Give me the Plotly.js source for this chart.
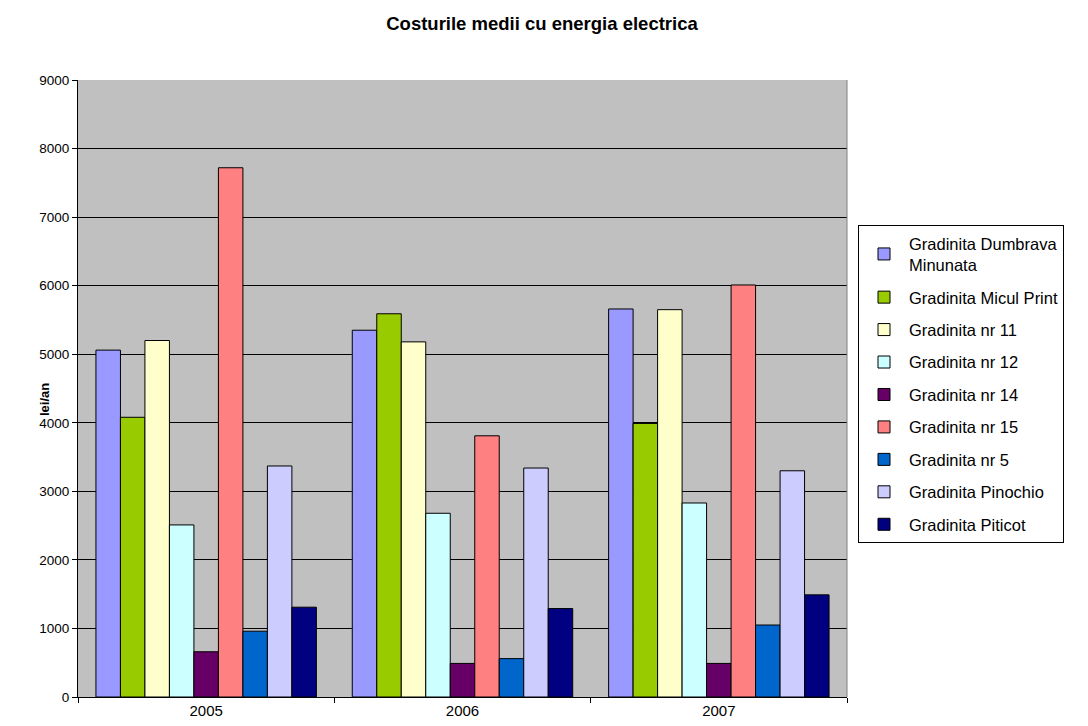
<!DOCTYPE html>
<html>
<head>
<meta charset="utf-8">
<script src="https://cdn.plot.ly/plotly-3.0.1.min.js"></script>
<style>html,body{margin:0;padding:0;background:#fff}#chart{width:1088px;height:726px}</style>
</head>
<body>
<div id="chart"></div>
<script>
const years = ['2005', '2006', '2007'];
const seriesNames = ['Gradinita Dumbrava<br>Minunata', 'Gradinita Micul Print', 'Gradinita nr 11', 'Gradinita nr 12', 'Gradinita nr 14', 'Gradinita nr 15', 'Gradinita nr 5', 'Gradinita Pinochio', 'Gradinita Piticot'];
const dumbrava = [5060, 5350, 5660];
const miculPrint = [4080, 5590, 3990];
const nr11 = [5200, 5180, 5650];
const nr12 = [2510, 2680, 2830];
const nr14 = [660, 490, 490];
const nr15 = [7720, 3810, 6010];
const nr5 = [960, 560, 1050];
const pinochio = [3370, 3340, 3300];
const piticot = [1310, 1290, 1490];
const seriesValues = [dumbrava, miculPrint, nr11, nr12, nr14, nr15, nr5, pinochio, piticot];
const colors = ['#9999FF', '#99CC00', '#FFFFCC', '#CCFFFF', '#660066', '#FF8080', '#0066CC', '#CCCCFF', '#000080'];

const traces = seriesNames.map((n, i) => ({
  type: 'bar', name: n, x: years, y: seriesValues[i],
  legendgroup: 'g' + i,
  marker: {color: colors[i], line: {color: '#000', width: 1}},
  hoverinfo: 'x+y+name'
}));

const layout = {
  width: 1088, height: 726,
  paper_bgcolor: '#fff', plot_bgcolor: '#C0C0C0',
  margin: {l: 78, r: 241, t: 80, b: 29},
  font: {family: 'Liberation Sans, Arial, sans-serif', size: 13, color: '#000'},
  title: {text: '<b>Costurile medii cu energia electrica</b>', font: {size: 18.5}, x: 542 / 1088, xref: 'container', y: 1 - 24 / 726, yref: 'container', xanchor: 'center', yanchor: 'middle'},
  barmode: 'group', bargap: 0.14, bargroupgap: 0,
  xaxis: {type: 'category', showgrid: false, showline: true, linecolor: '#000', linewidth: 1, mirror: false,
          ticks: 'outside', tickson: 'boundaries', ticklen: 5, tickcolor: '#000', tickfont: {size: 15}},
  yaxis: {range: [0, 9000], dtick: 1000, showgrid: true, gridcolor: '#000', gridwidth: 1,
          showline: true, linecolor: '#000', ticks: 'outside', ticklen: 5, tickcolor: '#000',
          zeroline: false, tickfont: {size: 13.5}},
  annotations: [{text: '<b>lei/an</b>', xref: 'paper', yref: 'paper', x: (44 - 78) / 769, y: (697 - 400) / 617,
                 xanchor: 'center', yanchor: 'middle', textangle: -90, showarrow: false, font: {size: 13}}],
  showlegend: true,
  legend: {x: (858 - 78) / 769, xanchor: 'left', y: (697 - 225) / 617, yanchor: 'top', bgcolor: '#fff', bordercolor: '#000', borderwidth: 1,
           font: {size: 16.5}, tracegroupgap: 8, traceorder: 'grouped', itemwidth: 40,
           entrywidth: 238},
  shapes: [{type: 'line', xref: 'paper', yref: 'paper', x0: 1, x1: 1, y0: 0, y1: 1, line: {color: '#808080', width: 1}}]
};

Plotly.newPlot('chart', traces, layout, {displayModeBar: false, staticPlot: true});
</script>
</body>
</html>
